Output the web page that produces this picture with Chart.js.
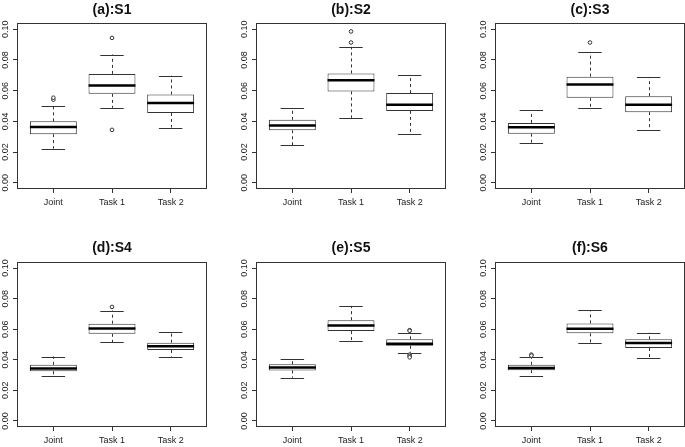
<!DOCTYPE html>
<html lang="en">
<head>
<meta charset="UTF-8">
<title>Boxplots S1-S6</title>
<script src="https://cdn.jsdelivr.net/npm/chart.js"></script>
<style>
    html, body { margin: 0; padding: 0; background: #fff; }
    #wrap { position: relative; width: 685px; height: 447px; overflow: hidden; }
    #wrap canvas { position: absolute; }
</style>
</head>
<body>
<div id="wrap">
    <canvas id="p1" width="239" height="220" style="left:0px;top:0px"></canvas>
    <canvas id="p2" width="239" height="220" style="left:239px;top:0px"></canvas>
    <canvas id="p3" width="239" height="220" style="left:478px;top:0px"></canvas>
    <canvas id="p4" width="239" height="223" style="left:0px;top:224px"></canvas>
    <canvas id="p5" width="239" height="223" style="left:239px;top:224px"></canvas>
    <canvas id="p6" width="239" height="223" style="left:478px;top:224px"></canvas>
</div>

<script>
// categories and axis ticks
const groups = ['Joint', 'Task 1', 'Task 2'];
const groupX = [1, 2, 3];
const yTicks = [0, 0.02, 0.04, 0.06, 0.08, 0.10];
const titles = ['(a):S1', '(b):S2', '(c):S3', '(d):S4', '(e):S5', '(f):S6'];

// S1 (lower whisker, Q1, median, Q3, upper whisker, outliers) per group
const s1Low = [0.0223, 0.0488, 0.0360];
const s1Q1  = [0.0317, 0.0579, 0.0455];
const s1Med = [0.0363, 0.0634, 0.0519];
const s1Q3  = [0.0400, 0.0709, 0.0575];
const s1High = [0.0503, 0.0835, 0.0697];
const s1Out = [[0.0541, 0.0554], [0.0943, 0.0345], []];

// S2
const s2Low = [0.0246, 0.0423, 0.0316];
const s2Q1  = [0.0342, 0.0595, 0.0468];
const s2Med = [0.0373, 0.0667, 0.0508];
const s2Q3  = [0.0410, 0.0712, 0.0584];
const s2High = [0.0484, 0.0885, 0.0702];
const s2Out = [[], [0.0985, 0.0913], []];

// S3
const s3Low = [0.0259, 0.0486, 0.0344];
const s3Q1  = [0.0320, 0.0553, 0.0460];
const s3Med = [0.0362, 0.0640, 0.0508];
const s3Q3  = [0.0390, 0.0691, 0.0564];
const s3High = [0.0473, 0.0852, 0.0688];
const s3Out = [[], [0.0913], []];

// S4
const s4Low = [0.0297, 0.0516, 0.0421];
const s4Q1  = [0.0325, 0.0570, 0.0464];
const s4Med = [0.0343, 0.0605, 0.0488];
const s4Q3  = [0.0367, 0.0636, 0.0512];
const s4High = [0.0421, 0.0722, 0.0579];
const s4Out = [[], [0.0746], []];

// S5
const s5Low = [0.0282, 0.0525, 0.0447];
const s5Q1  = [0.0330, 0.0588, 0.0492];
const s5Med = [0.0349, 0.0625, 0.0505];
const s5Q3  = [0.0371, 0.0659, 0.0534];
const s5High = [0.0408, 0.0753, 0.0577];
const s5Out = [[], [], [0.0594, 0.0590, 0.0434, 0.0425, 0.0416]];

// S6
const s6Low = [0.0291, 0.0512, 0.0414];
const s6Q1  = [0.0332, 0.0573, 0.0477];
const s6Med = [0.0347, 0.0603, 0.0510];
const s6Q3  = [0.0367, 0.0638, 0.0534];
const s6High = [0.0416, 0.0725, 0.0577];
const s6Out = [[0.0434, 0.0427], [], []];

const panels = [
    { low: s1Low, q1: s1Q1, med: s1Med, q3: s1Q3, high: s1High, out: s1Out },
    { low: s2Low, q1: s2Q1, med: s2Med, q3: s2Q3, high: s2High, out: s2Out },
    { low: s3Low, q1: s3Q1, med: s3Med, q3: s3Q3, high: s3High, out: s3Out },
    { low: s4Low, q1: s4Q1, med: s4Med, q3: s4Q3, high: s4High, out: s4Out },
    { low: s5Low, q1: s5Q1, med: s5Med, q3: s5Q3, high: s5High, out: s5Out },
    { low: s6Low, q1: s6Q1, med: s6Med, q3: s6Q3, high: s6High, out: s6Out }
];

const FONT = "'Liberation Sans', Arial, Helvetica, sans-serif";
const INK = '#333';

// whiskers, caps, medians, frame and rotated y labels (R boxplot look)
const boxPlotLines = {
    id: 'boxPlotLines',
    beforeDatasetsDraw(chart, args, opts) {
        const ctx = chart.ctx, xs = chart.scales.x, ys = chart.scales.y;
        ctx.save();
        ctx.strokeStyle = INK;
        ctx.lineWidth = 1;
        groupX.forEach((gx, i) => {
            const px = Math.round(xs.getPixelForValue(gx)) + 0.5;
            // dashed whiskers
            ctx.setLineDash([3, 3]);
            ctx.beginPath();
            ctx.moveTo(px, ys.getPixelForValue(opts.q3[i]));
            ctx.lineTo(px, ys.getPixelForValue(opts.high[i]));
            ctx.moveTo(px, ys.getPixelForValue(opts.q1[i]));
            ctx.lineTo(px, ys.getPixelForValue(opts.low[i]));
            ctx.stroke();
            // staples
            ctx.setLineDash([]);
            const x0 = xs.getPixelForValue(gx - 0.2), x1 = xs.getPixelForValue(gx + 0.2);
            [opts.high[i], opts.low[i]].forEach(v => {
                const py = Math.round(ys.getPixelForValue(v)) + 0.5;
                ctx.beginPath();
                ctx.moveTo(x0, py);
                ctx.lineTo(x1, py);
                ctx.stroke();
            });
        });
        ctx.restore();
    },
    afterDatasetsDraw(chart, args, opts) {
        const ctx = chart.ctx, xs = chart.scales.x, ys = chart.scales.y;
        const a = chart.chartArea;
        ctx.save();
        // medians
        ctx.strokeStyle = '#000';
        ctx.lineWidth = 2.5;
        groupX.forEach((gx, i) => {
            const py = ys.getPixelForValue(opts.med[i]);
            ctx.beginPath();
            ctx.moveTo(xs.getPixelForValue(gx - 0.4), py);
            ctx.lineTo(xs.getPixelForValue(gx + 0.4), py);
            ctx.stroke();
        });
        // frame
        ctx.strokeStyle = INK;
        ctx.lineWidth = 1;
        ctx.strokeRect(Math.round(a.left) + 0.5, Math.round(a.top) + 0.5,
            Math.round(a.right - a.left) - 1, Math.round(a.bottom - a.top) - 1);
        // y tick labels, rotated like R's las = 0
        ctx.fillStyle = '#222';
        ctx.font = '9px ' + FONT;
        ctx.textAlign = 'center';
        ctx.textBaseline = 'middle';
        yTicks.forEach(v => {
            ctx.save();
            ctx.translate(a.left - 11, ys.getPixelForValue(v));
            ctx.rotate(-Math.PI / 2);
            ctx.fillText(v.toFixed(2), 0, 0);
            ctx.restore();
        });
        ctx.restore();
    }
};

function makePanel(canvasId, title, p, topRow) {
    const boxData = groupX.map((gx, i) => ({ x: gx, y: [p.q1[i], p.q3[i]] }));
    const outData = [];
    p.out.forEach((vals, i) => vals.forEach(v => outData.push({ x: groupX[i], y: v })));
    const H = document.getElementById(canvasId).height;

    return new Chart(document.getElementById(canvasId), {
        type: 'bar',
        data: {
            datasets: [
                {
                    type: 'bar',
                    data: boxData,
                    backgroundColor: '#fff',
                    borderColor: INK,
                    borderWidth: 1,
                    borderSkipped: false,
                    categoryPercentage: 1,
                    barPercentage: 0.8
                },
                {
                    type: 'scatter',
                    data: outData,
                    pointRadius: 1.8,
                    pointBorderWidth: 1,
                    pointBorderColor: INK,
                    pointBackgroundColor: '#fff'
                }
            ]
        },
        options: {
            responsive: false,
            animation: false,
            // left padding stands in for the y axis so the title centres over the plot box
            layout: { padding: { left: 17, right: 32, top: 0, bottom: 0 } },
            plugins: {
                legend: { display: false },
                tooltip: { enabled: false },
                title: {
                    display: true,
                    text: title,
                    color: '#111',
                    font: { family: FONT, size: 14, weight: 'bold' },
                    padding: topRow ? { top: 2, bottom: 4.2 } : { top: 15.5, bottom: 5.7 }
                },
                boxPlotLines: p
            },
            scales: {
                x: {
                    type: 'linear',
                    min: 0.38,
                    max: 3.62,
                    offset: false,
                    afterBuildTicks: s => { s.ticks = groupX.map(v => ({ value: v })); },
                    afterFit: s => { s.height = topRow ? H - 189 : H - 203; },
                    ticks: {
                        color: '#222',
                        font: { family: FONT, size: 9 },
                        padding: 4,
                        maxRotation: 0,
                        callback: v => groups[groupX.indexOf(v)]
                    },
                    grid: { offset: false, drawOnChartArea: false, drawTicks: true, tickLength: 4, color: INK },
                    border: { display: false }
                },
                y: {
                    min: -0.004,
                    max: 0.104,
                    afterBuildTicks: s => { s.ticks = yTicks.map(v => ({ value: v })); },
                    afterFit: s => { s.width = 0; },
                    ticks: { display: false },
                    grid: { drawOnChartArea: false, drawTicks: true, tickLength: 4, color: INK },
                    border: { display: false }
                }
            }
        },
        plugins: [boxPlotLines]
    });
}

panels.forEach((p, i) => makePanel('p' + (i + 1), titles[i], p, i < 3));
</script>
</body>
</html>
